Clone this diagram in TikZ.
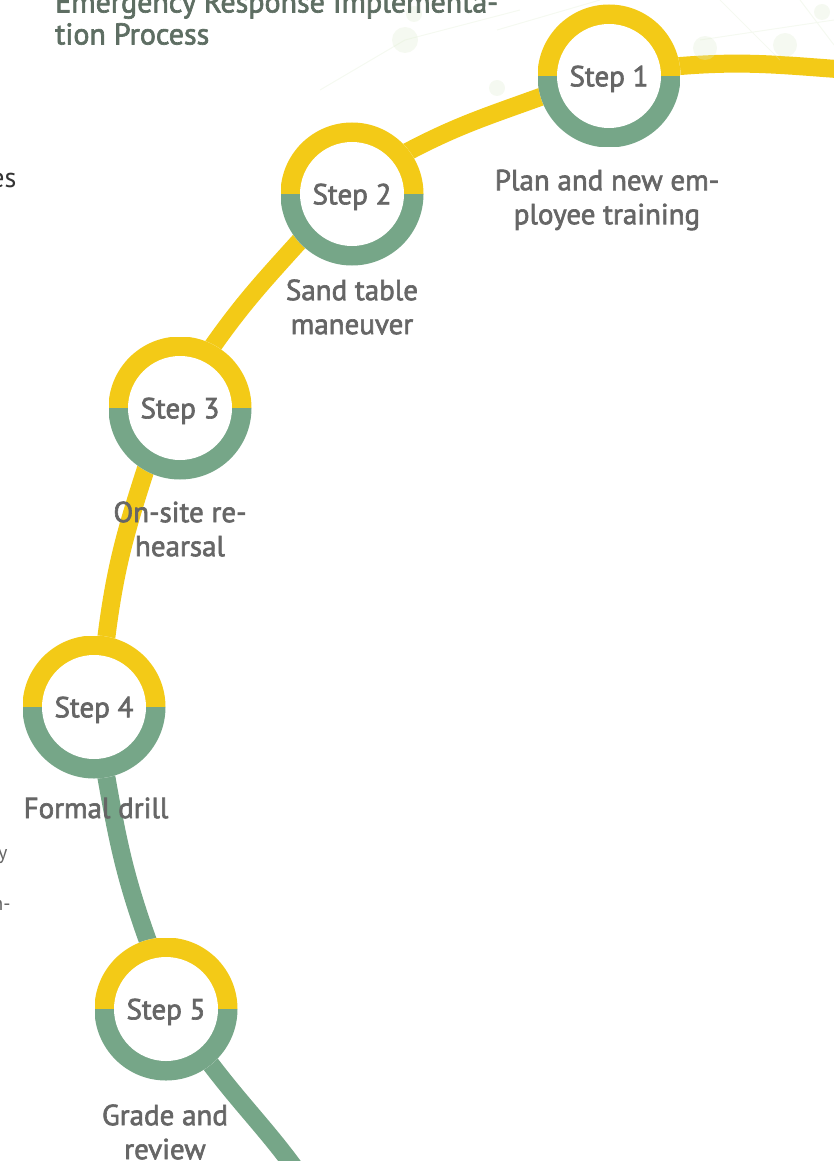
\documentclass[tikz,border=0pt]{standalone}
\usepackage{fontspec}
\setmainfont{PT Sans}
\newfontfamily\semib[FakeBold=2.2]{PT Sans}
\usepackage{tikz}
\usetikzlibrary{positioning, calc, backgrounds}

\definecolor{stepyellow}{HTML}{F3CA17}
\definecolor{stepgreen}{HTML}{76A688}
\definecolor{labelgray}{HTML}{666666}
\definecolor{titlegray}{HTML}{5E6E63}
\definecolor{netgreen}{HTML}{DDEBCF}

\tikzset{
  stepring/.style={circle, minimum size=143pt, inner sep=0pt, fill=white, text depth=0pt,
    font=\semib\fontsize{29}{34}\selectfont, text=labelgray,
    path picture={
      \fill[stepyellow] (path picture bounding box.west) rectangle (path picture bounding box.north east);
      \fill[stepgreen] (path picture bounding box.west) rectangle (path picture bounding box.south east);
      \fill[white] (path picture bounding box.center) circle[radius=52pt];
    }},
  steplabel/.style={align=center, text=labelgray, font=\semib\fontsize{29}{34}\selectfont},
  yline/.style={line width=18pt, stepyellow, shorten <=-6pt, shorten >=-6pt},
  gline/.style={line width=18pt, stepgreen, shorten <=-6pt, shorten >=-6pt}
}

\begin{document}
\begin{tikzpicture}[x=1pt, y=-1pt]
  \useasboundingbox (0,0) rectangle (834,1161);
  \clip (0,0) rectangle (834,1161);

  % Background network
  \begin{scope}[netgreen, opacity=0.3]
    \draw[line width=1pt] (405,40) -- (520,10) (405,40) -- (320,90) (497,30) -- (600,0)
      (700,40) -- (834,20) (720,0) -- (780,60) (800,0) -- (834,45);
    \fill (405,40) circle[radius=13pt];
    \fill (414,14) circle[radius=8pt];
    \fill (497,88) circle[radius=8pt];
    \fill (705,48) circle[radius=12pt];
    \fill (785,45) circle[radius=12pt];
    \fill (822,12) circle[radius=8pt];
  \end{scope}

  % Title
  \node[anchor=north west, align=left, inner sep=0pt, text=titlegray, font=\semib\fontsize{30}{32}\selectfont]
    (title) at (55,-9) {Emergency Response Implementa-\\tion Process};

  % Cut-off text at the left edge
  \node[anchor=east, text=black!80, font=\fontsize{28}{32}\selectfont] (frag1) at (20,180) {es};
  \node[anchor=east, text=labelgray, font=\fontsize{20}{24}\selectfont] (frag2) at (11,855) {ly};
  \node[anchor=east, text=labelgray, font=\fontsize{20}{24}\selectfont] (frag3) at (14,905) {n-};

  % Steps
  \node[stepring] (s1) at (609,76) {Step 1};
  \node[stepring] (s2) at (352,194) {Step 2};
  \node[stepring] (s3) at (180,408) {Step 3};
  \node[stepring] (s4) at (94,707) {Step 4};
  \node[stepring] (s5) at (166,1009) {Step 5};

  \coordinate (inR) at (850,70);
  \coordinate (outB) at (302,1178);

  % Path
  \begin{scope}[on background layer]
    \draw[yline] (s1.8) to[out=5, in=176] (inR);
    \draw[yline] (s1.197) to[out=200, in=28] (s2.37);
    \draw[yline] (s2.222) to[out=228, in=55] (s3.62);
    \draw[yline] (s3.241) to[out=252, in=83] (s4.80);
    \draw[gline] (s4.280) to[out=280, in=110] (s5.105);
    \draw[gline] (s5.309) to[out=307, in=125] (outB);
  \end{scope}

  % Labels
  \node[steplabel] (l1) at (607,200) {Plan and new em-\\ployee training};
  \node[steplabel] (l2) at (352,307) {Sand table\\maneuver};
  \node[steplabel] (l3) at (180,529) {On-site re-\\hearsal};
  \node[steplabel] (l4) at (96,808) {Formal drill};
  \node[steplabel] (l5) at (165,1132) {Grade and\\review};
\end{tikzpicture}
\end{document}
